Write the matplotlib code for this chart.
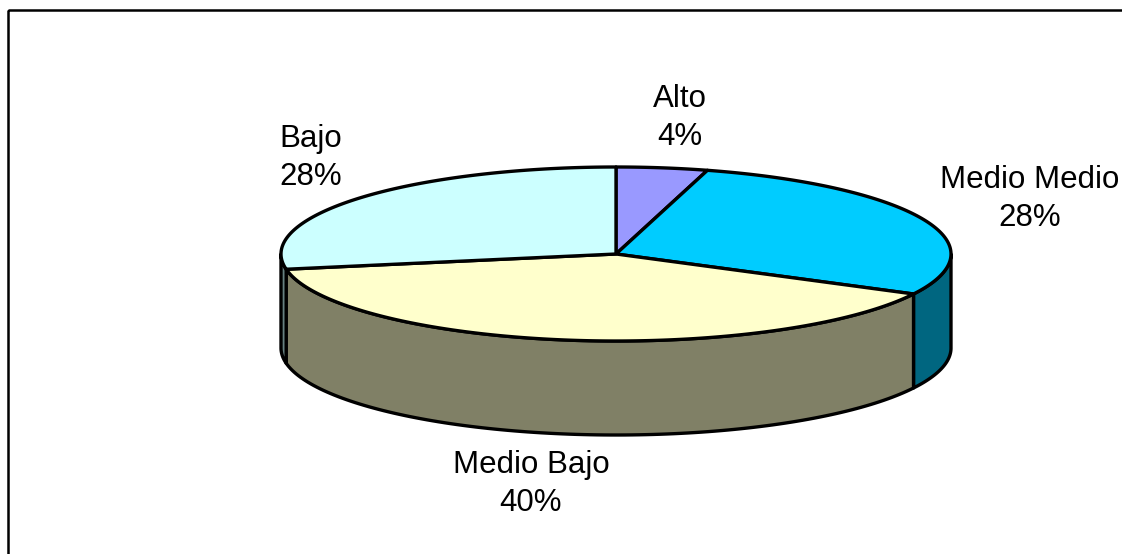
# 3d style pie of nivel socioeconomico, drawn by hand with patches
import numpy as np
import matplotlib.pyplot as plt
from matplotlib.patches import Polygon, Rectangle

plt.rcParams['font.family'] = ['Liberation Sans', 'DejaVu Sans']

# data (shares, labels show them rounded)
labels = ['Alto', 'Medio Medio', 'Medio Bajo', 'Bajo']
values = [4.4, 28.2, 39.6, 27.8]
top_colors = ['#9999FF', '#00CCFF', '#FFFFCC', '#CCFFFF']
side_colors = ['#4D4D80', '#006680', '#808066', '#668080']

# label text anchors (pixel coords), same order as labels
label_pos = [(680, 118), (1030, 199), (531, 484), (311, 158)]

# geometry of the disc in pixels
cx, cy = 616, 254
a, b = 335, 87
depth = 94


def ell(t):
    # t in degrees, clockwise from 12 o'clock
    r = np.radians(t)
    return cx + a * np.sin(r), cy - b * np.cos(r)


def main():
    fig = plt.figure(figsize=(11.22, 5.54), dpi=100)
    ax = fig.add_axes([0, 0, 1, 1])
    ax.set_xlim(0, 1122)
    ax.set_ylim(554, 0)
    ax.axis('off')

    # chart frame
    ax.add_patch(Rectangle((8, 10), 1130, 560, fill=False, ec='black', lw=1.8))

    total = float(sum(values))
    bounds = np.concatenate([[0], np.cumsum(values) / total * 360])

    # side walls (only front half visible: 90..270)
    for i in range(len(values)):
        t0, t1 = max(bounds[i], 90), min(bounds[i + 1], 270)
        if t1 <= t0:
            continue
        t = np.linspace(t0, t1, 120)
        x, y = ell(t)
        pts = np.column_stack([np.r_[x, x[::-1]], np.r_[y, y[::-1] + depth]])
        ax.add_patch(Polygon(pts, closed=True, fc=side_colors[i], ec='black',
                             lw=2.4, joinstyle='round'))

    # top faces
    for i in range(len(values)):
        t = np.linspace(bounds[i], bounds[i + 1], 200)
        x, y = ell(t)
        pts = np.column_stack([np.r_[cx, x], np.r_[cy, y]])
        ax.add_patch(Polygon(pts, closed=True, fc=top_colors[i], ec='black',
                             lw=2.4, joinstyle='round'))

    for lab, v, (px, py) in zip(labels, values, label_pos):
        ax.text(px, py, '%s\n%d%%' % (lab, round(v)), ha='center', va='center',
                multialignment='center', fontsize=22.5, linespacing=1.35)

    fig.savefig('out.png', dpi=100)


if __name__ == '__main__':
    main()
